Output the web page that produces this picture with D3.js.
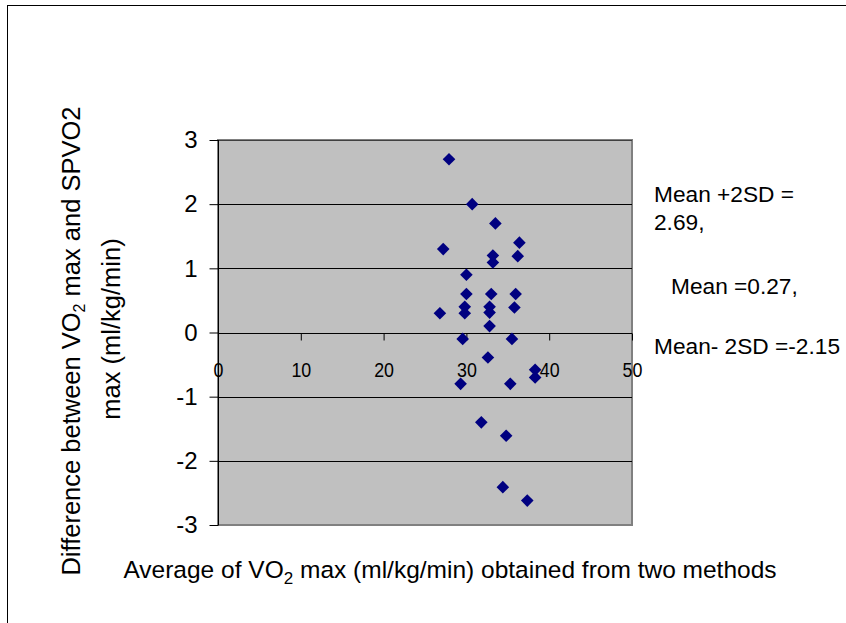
<!DOCTYPE html>
<html>
<head>
<meta charset="utf-8">
<script src="https://cdn.jsdelivr.net/npm/d3@7"></script>
<style>
  html, body { margin: 0; padding: 0; background: #fff; }
  svg { display: block; }
  text { font-family: Arial, "Liberation Sans", sans-serif; fill: #000; }
</style>
</head>
<body>
<svg id="chart" width="846" height="623"></svg>
<script>
// ---- data ----
const averages = [27.9, 30.7, 33.5, 27.2, 36.4, 33.2, 36.2, 33.2,
                  30.0, 30.0, 33.0, 35.95, 26.8, 29.8, 29.8, 32.8, 32.8, 35.8, 32.8,
                  29.55, 35.5, 32.6, 38.3, 38.3, 29.3, 35.3,
                  31.8, 34.8, 34.4, 37.35];
const differences = [2.70, 2.00, 1.70, 1.30, 1.40, 1.20, 1.19, 1.09,
                     0.90, 0.60, 0.60, 0.60, 0.30, 0.40, 0.30, 0.40, 0.31, 0.39, 0.10,
                     -0.10, -0.10, -0.39, -0.58, -0.70, -0.80, -0.80,
                     -1.40, -1.61, -2.41, -2.62];
const xTicks = [0, 10, 20, 30, 40, 50];
const yTicks = [-3, -2, -1, 0, 1, 2, 3];
const annotationLines = ["Mean +2SD =", "2.69,", "Mean =0.27,", "Mean- 2SD =-2.15"];

// ---- layout ----
const svg = d3.select("#chart");
const plot = { left: 218, right: 632, top: 140, bottom: 525 };

const x = d3.scaleLinear().domain([0, 50]).range([plot.left, plot.right]);
const y = d3.scaleLinear().domain([-3, 3]).range([plot.bottom, plot.top]);

// outer chart frame
svg.append("rect")
  .attr("x", 7.5).attr("y", 5.5).attr("width", 900).attr("height", 700)
  .attr("fill", "#fff").attr("stroke", "#000").attr("stroke-width", 1);

// plot area
svg.append("rect")
  .attr("x", plot.left).attr("y", plot.top)
  .attr("width", plot.right - plot.left).attr("height", plot.bottom - plot.top)
  .attr("fill", "#c0c0c0").attr("stroke", "#808080").attr("stroke-width", 2);

// horizontal gridlines
svg.append("g").selectAll("line").data(yTicks.filter(d => d !== -3 && d !== 3)).join("line")
  .attr("x1", plot.left).attr("x2", plot.right)
  .attr("y1", d => Math.round(y(d)) + 0.5).attr("y2", d => Math.round(y(d)) + 0.5)
  .attr("stroke", "#000").attr("stroke-width", 1);
svg.append("line")
  .attr("x1", plot.left).attr("x2", plot.right)
  .attr("y1", Math.round(y(3)) + 0.5).attr("y2", Math.round(y(3)) + 0.5)
  .attr("stroke", "#404040").attr("stroke-width", 1);

// y axis
const yAxis = d3.axisLeft(y).tickValues(yTicks).tickSize(9).tickPadding(12)
  .tickFormat(d => String(d));
const gy = svg.append("g").attr("transform", `translate(${plot.left + 0.5},0)`).call(yAxis);
gy.select(".domain").attr("stroke", "#000").attr("d", `M0,${plot.top}V${plot.bottom}`);
gy.selectAll(".tick line").attr("stroke", "#000");
gy.selectAll(".tick text")
  .style("font-family", "Arial, 'Liberation Sans', sans-serif")
  .style("font-size", "24px").attr("fill", "#000");

// x axis crossing at y = 0
const xAxis = d3.axisBottom(x).tickValues(xTicks).tickSize(7).tickPadding(22)
  .tickFormat(d => String(d));
const gx = svg.append("g").attr("transform", `translate(0,${Math.round(y(0)) + 0.5})`).call(xAxis);
gx.select(".domain").remove();
gx.selectAll(".tick line").attr("stroke", "#000");
gx.selectAll(".tick text")
  .style("font-family", "Arial, 'Liberation Sans', sans-serif")
  .style("font-size", "21px").attr("fill", "#000")
  .attr("transform", "scale(0.85,1)");

// points
const pts = averages.map((a, i) => ({ a, d: differences[i] }));
const r = 6.3;
svg.append("g").selectAll("path").data(pts).join("path")
  .attr("d", p => {
    const cx = x(p.a), cy = y(p.d);
    return `M${cx},${cy - r}L${cx + r},${cy}L${cx},${cy + r}L${cx - r},${cy}Z`;
  })
  .attr("fill", "#000080");

// annotations on the right
const ann = svg.append("g").style("font-size", "22.7px");
ann.append("text").attr("x", 654).attr("y", 202).text(annotationLines[0]);
ann.append("text").attr("x", 654).attr("y", 230).text(annotationLines[1]);
ann.append("text").attr("x", 671).attr("y", 294).text(annotationLines[2]);
ann.append("text").attr("x", 654).attr("y", 354).text(annotationLines[3]);

// x axis title
const xt = svg.append("text")
  .attr("x", 450).attr("y", 578).attr("text-anchor", "middle")
  .style("font-size", "24.5px");
xt.append("tspan").text("Average of VO");
xt.append("tspan").attr("dy", 6).style("font-size", "17px").text("2");
xt.append("tspan").attr("dy", -6).text(" max (ml/kg/min) obtained from two methods");

// y axis title (two lines, rotated)
const yt1 = svg.append("text")
  .attr("transform", "translate(80,341) rotate(-90)")
  .attr("text-anchor", "middle").style("font-size", "25.5px");
yt1.append("tspan").text("Difference between VO");
yt1.append("tspan").attr("dy", 5).style("font-size", "16px").text("2");
yt1.append("tspan").attr("dy", -5).text(" max and SPVO2");
svg.append("text")
  .attr("transform", "translate(120,329) rotate(-90)")
  .attr("text-anchor", "middle").style("font-size", "25.5px")
  .text("max (ml/kg/min)");
</script>
</body>
</html>
